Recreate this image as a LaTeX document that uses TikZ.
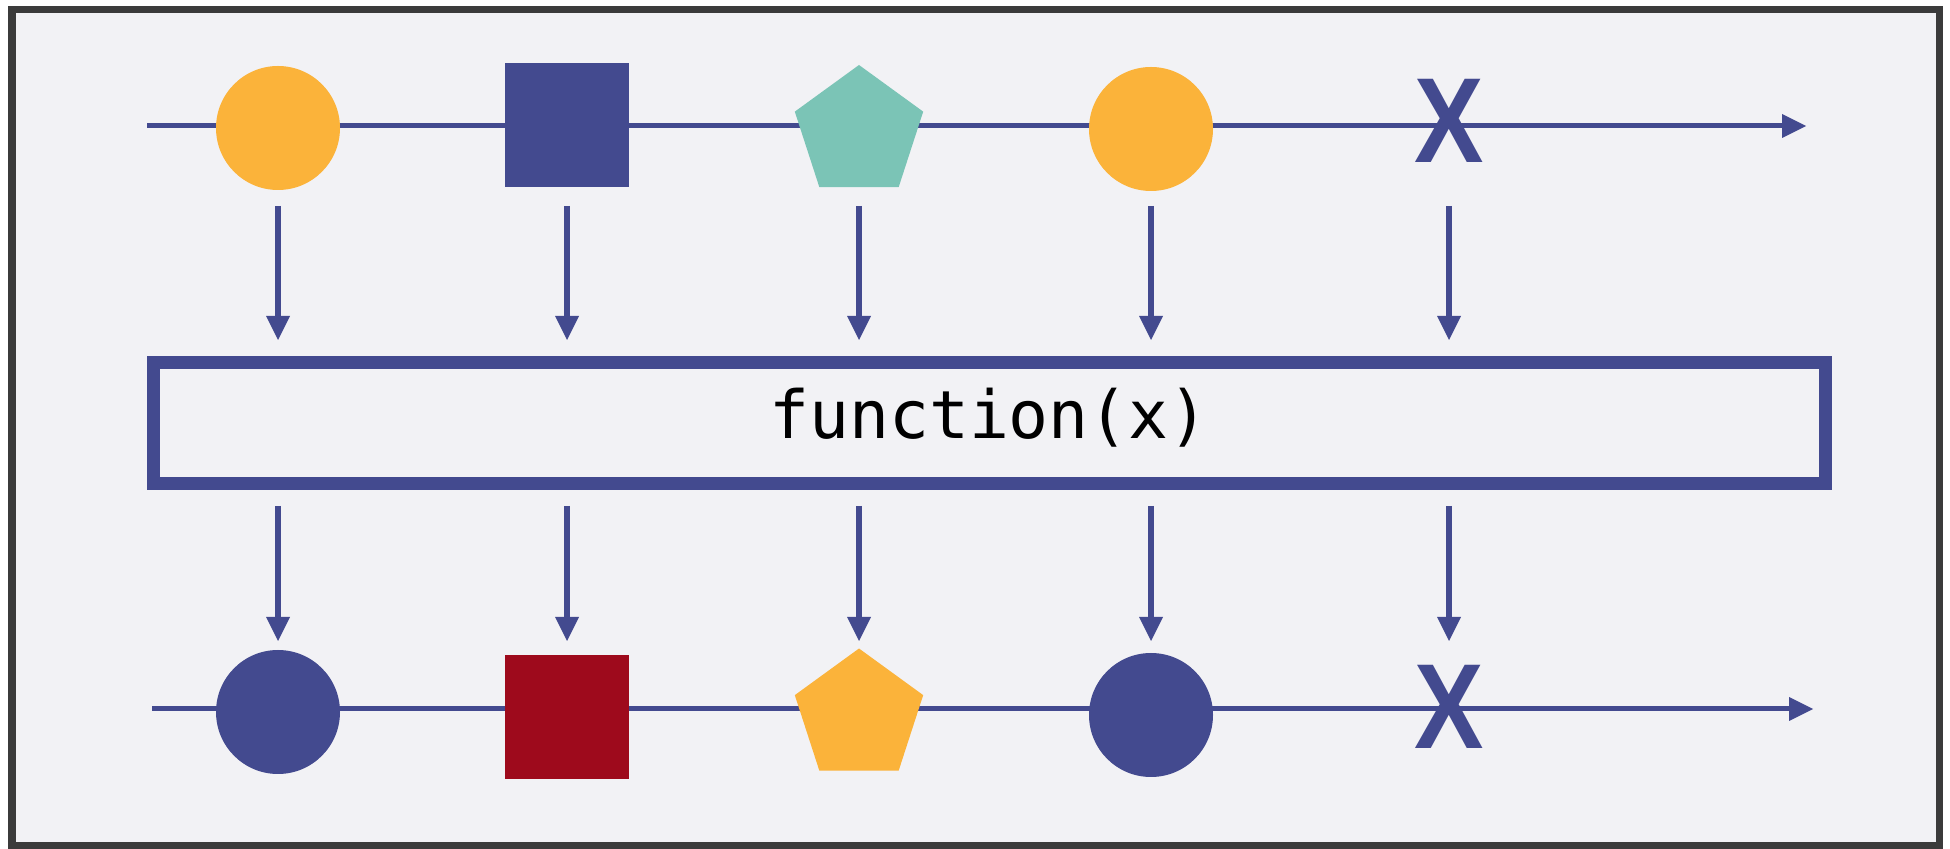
\documentclass[tikz,border=0pt]{standalone}
\usepackage{fontspec}
\newfontfamily\monofont{DejaVu Sans Mono}
\newfontfamily\xfont{Liberation Sans Bold}
\usetikzlibrary{arrows.meta,shapes.geometric}
\definecolor{navy}{HTML}{434A8F}
\definecolor{orangec}{HTML}{FBB33A}
\definecolor{tealc}{HTML}{7BC4B6}
\definecolor{redc}{HTML}{9E0A1C}
\definecolor{bgc}{HTML}{F2F2F5}
\definecolor{framec}{HTML}{3B3B3B}
\begin{document}
\begin{tikzpicture}[x=0.5pt,y=0.5pt,
  tline/.style={draw=navy,line width=2.5pt},
  shaft/.style={draw=navy,line width=3pt},
  headc/.style={fill=navy},
  dot/.style={circle,minimum size=62pt,inner sep=0pt,outer sep=0pt},
  sq/.style={rectangle,minimum size=62pt,inner sep=0pt,outer sep=0pt},
  pent/.style={regular polygon,regular polygon sides=5,minimum size=67.5pt,inner sep=0pt,outer sep=0pt},
  xmark/.style={text=navy,font=\xfont\fontsize{60.5}{61}\selectfont,inner sep=0pt,xscale=0.86}]
\useasboundingbox (0,0) rectangle (1950,-849);
\fill[white] (0,0) rectangle (1950,-849);
\fill[framec] (8,-6) rectangle (1943,-849);
\fill[bgc] (16,-13) rectangle (1936,-842);

% top timeline
\coordinate (ts) at (147,-126);
\coordinate (te) at (1806,-126);
\draw[tline] (ts) -- ([xshift=-10pt]te);
\fill[headc] (te) -- ++(-24,12) -- ++(0,-24) -- cycle;
\node[dot,fill=orangec] (t1) at (278,-128) {};
\node[sq,fill=navy] (t2) at (567,-125) {};
\node[pent,fill=tealc] (t3) at (859,-132.5) {};
\node[dot,fill=orangec] (t4) at (1151,-129) {};
\node[xmark] (t5) at (1449,-121) {X};

% function box
\node[draw=navy,line width=6.5pt,inner sep=0pt,minimum width=836pt,minimum height=60.5pt] (box) at (989,-423) {};
\node[anchor=base,inner sep=0pt,font=\monofont\fontsize{33.2}{34}\selectfont] (fx) at (989,-439) {function(x)};

% bottom timeline
\coordinate (bs) at (152,-709);
\coordinate (be) at (1813,-709);
\draw[tline] (bs) -- ([xshift=-10pt]be);
\fill[headc] (be) -- ++(-24,12) -- ++(0,-24) -- cycle;
\node[dot,fill=navy] (b1) at (278,-712) {};
\node[sq,fill=redc] (b2) at (567,-717) {};
\node[pent,fill=orangec] (b3) at (859,-716) {};
\node[dot,fill=navy] (b4) at (1151,-715) {};
\node[xmark] (b5) at (1449,-707) {X};

% arrows into the box
\foreach \n in {t1,t2,t3,t4,t5}{
  \draw[shaft] (\n |- 0,-206) -- (\n |- 0,-322);
  \fill[headc] (\n |- 0,-340) -- ++(-12,24) -- ++(24,0) -- cycle;
}
% arrows out of the box
\foreach \n in {b1,b2,b3,b4,b5}{
  \draw[shaft] (\n |- 0,-506) -- (\n |- 0,-623);
  \fill[headc] (\n |- 0,-641) -- ++(-12,24) -- ++(24,0) -- cycle;
}
\end{tikzpicture}
\end{document}
